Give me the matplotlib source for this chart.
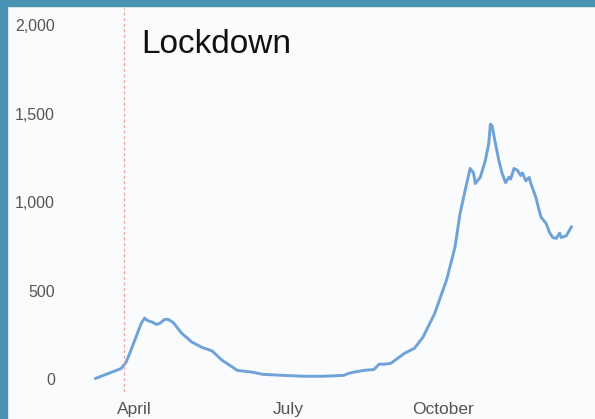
import numpy as np
import pandas as pd
import matplotlib
matplotlib.use("Agg")
import matplotlib.pyplot as plt
from matplotlib.patches import Rectangle
from matplotlib.ticker import FuncFormatter

plt.rcParams['font.family'] = ['Liberation Sans', 'DejaVu Sans']

# daily counts (date, value)
dates = ["2020-03-09", "2020-03-24", "2020-03-27", "2020-03-30", "2020-04-02",
         "2020-04-05", "2020-04-07", "2020-04-09", "2020-04-11", "2020-04-14",
         "2020-04-16", "2020-04-19", "2020-04-21", "2020-04-24", "2020-04-29",
         "2020-05-05", "2020-05-11", "2020-05-17", "2020-05-23", "2020-06-01",
         "2020-06-10", "2020-06-16", "2020-06-28", "2020-07-10", "2020-07-22",
         "2020-08-03", "2020-08-06", "2020-08-09", "2020-08-15", "2020-08-21",
         "2020-08-24", "2020-08-27", "2020-08-31", "2020-09-08", "2020-09-14",
         "2020-09-19", "2020-09-26", "2020-10-03", "2020-10-08", "2020-10-11",
         "2020-10-14", "2020-10-17", "2020-10-19", "2020-10-20", "2020-10-23",
         "2020-10-26", "2020-10-28", "2020-10-29", "2020-10-30", "2020-11-01",
         "2020-11-03", "2020-11-05", "2020-11-07", "2020-11-09", "2020-11-10",
         "2020-11-12", "2020-11-14", "2020-11-16", "2020-11-17", "2020-11-19",
         "2020-11-21", "2020-11-22", "2020-11-25", "2020-11-27", "2020-11-28",
         "2020-12-01", "2020-12-03", "2020-12-05", "2020-12-07", "2020-12-09",
         "2020-12-10", "2020-12-13", "2020-12-16"]
values = [5, 60, 95, 165, 240,
          315, 345, 330, 325, 310,
          315, 338, 338, 320, 260,
          210, 180, 160, 107, 50,
          40, 28, 22, 17, 17,
          22, 33, 40, 50, 55,
          85, 85, 90, 146, 175,
          237, 372, 560, 745, 935,
          1065, 1190, 1165, 1105, 1140,
          1235, 1330, 1440, 1430, 1330,
          1235, 1160, 1110, 1140, 1130,
          1190, 1180, 1150, 1165, 1120,
          1140, 1105, 1025, 950, 915,
          880, 830, 800, 795, 825,
          800, 810, 860]

lockdown_date = "2020-03-26"
yticks = [0, 500, 1000, 1500, 2000]
xtick_dates = ["2020-04-01", "2020-07-01", "2020-10-01"]
xtick_labels = ["April", "July", "October"]

bg = "#f9fbfc"
fig = plt.figure(figsize=(5.95, 4.19), dpi=100, facecolor=bg)
ax = fig.add_axes([0.104, 0.064, 0.896, 0.917], facecolor=bg)

x = pd.to_datetime(dates)
ax.plot(x, values, color="#6fa2d8", lw=2.1, solid_joinstyle="round")
ax.axvline(pd.Timestamp(lockdown_date), color="#f0a0a0", lw=0.9, ls=(0, (2.5, 2)))
ax.text(pd.Timestamp("2020-04-05"), 1890, "Lockdown", fontsize=24,
        color="#111111", va="center", ha="left")

ax.set_xlim(pd.Timestamp("2020-02-18"), pd.Timestamp("2020-12-30"))
ax.set_ylim(-73, 2096)
ax.set_yticks(yticks)
ax.yaxis.set_major_formatter(FuncFormatter(lambda v, p: f"{int(v):,}"))
ax.set_xticks(pd.to_datetime(xtick_dates))
ax.set_xticklabels(xtick_labels)
ax.tick_params(length=0, labelcolor="#555555")
ax.tick_params(axis="y", pad=5, labelsize=11.5)
ax.tick_params(axis="x", pad=7, labelsize=12.5)
for s in ax.spines.values():
    s.set_visible(False)

# teal frame on left and top edges
fig.patches.append(Rectangle((0, 0), 7 / 595, 1, transform=fig.transFigure,
                             color="#4a93b3", zorder=10))
fig.patches.append(Rectangle((0, 1 - 6 / 419), 1, 6 / 419, transform=fig.transFigure,
                             color="#4a93b3", zorder=10))

fig.savefig("out.png", dpi=100, facecolor=bg)
